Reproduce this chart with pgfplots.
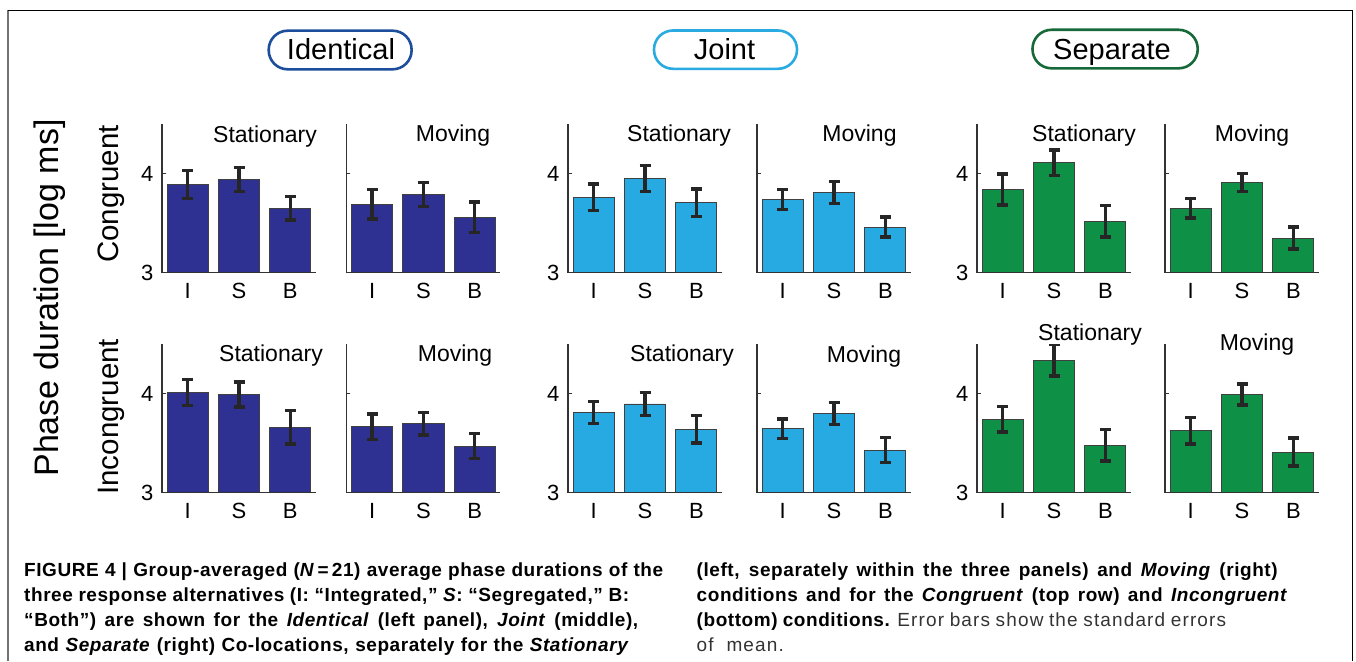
\documentclass[border=0pt]{standalone}
\usepackage{fontspec}
\setmainfont{Liberation Sans}
\newfontfamily\capfont[LetterSpace=3]{Liberation Sans}
\newfontfamily\capreg[LetterSpace=6]{Liberation Sans}
\usepackage{pgfplots}
\pgfplotsset{compat=1.18}

\definecolor{idcol}{HTML}{2E3192}
\definecolor{jocol}{HTML}{27AAE1}
\definecolor{secol}{HTML}{0E9046}
\definecolor{idframe}{HTML}{1C4E9C}
\definecolor{joframe}{HTML}{29ABE2}
\definecolor{seframe}{HTML}{17693A}

\pgfplotsset{
  panel/.style={
    scale only axis, width=154pt, height=148.7pt, anchor=south west,
    xmin=0.5, xmax=3.5, ymin=3, ymax=4.5,
    axis lines*=left, axis on top,
    axis line style={line width=1.1pt, black!80},
    xtick={1,2,3}, xticklabels={I,S,B}, ytick={3,4},
    tick align=inside, major tick length=4pt,
    x tick style={draw=none}, y tick style={line width=1pt, black!80},
    tick label style={font=\fontsize{22}{22}\selectfont},
    /pgf/number format/assume math mode=true,
    xticklabel style={yshift=-7pt}, yticklabel style={xshift=-5pt},
  },
  nolab/.style={yticklabels={}},
  bars/.style={ybar, bar width=0.8, bar shift=0pt, fill=#1, draw=black!75, line width=0.8pt,
    error bars/.cd, y dir=both, y explicit,
    error bar style={line width=3.5pt, black!85},
    error mark=-,
    error mark options={rotate=90, line width=3.5pt, black!85, mark size=5.5pt}},
}

\begin{document}
\begin{tikzpicture}
\path[use as bounding box] (0,0) rectangle (1356pt,-661pt);
\draw[black!55, line width=2pt] (7.5pt,-661pt) -- (7.5pt,-10.5pt);
\draw[black, line width=1.4pt] (7.5pt,-10.5pt) -- (1352.5pt,-10.5pt) -- (1352.5pt,-661pt);

% group headers
\draw[idframe, line width=2.6pt, rounded corners=19pt] (268.7pt,-30.7pt) rectangle (411.6pt,-69.3pt);
\draw[joframe, line width=2.6pt, rounded corners=19pt] (654pt,-30.5pt) rectangle (797pt,-68.8pt);
\draw[seframe, line width=2.6pt, rounded corners=19pt] (1032.5pt,-29.8pt) rectangle (1197.7pt,-68.3pt);
\begin{scope}[every node/.style={anchor=base, font=\fontsize{29}{30}\selectfont}]
\node at (341pt,-59.3pt) {Identical};
\node at (724.5pt,-59.3pt) {Joint};
\node at (1112pt,-59.3pt) {Separate};
\end{scope}

% row labels
\node[rotate=90, font=\fontsize{34}{35}\selectfont] at (50pt,-298pt) {Phase duration [log ms]};
\node[rotate=90, font=\fontsize{29.5}{30}\selectfont] at (111pt,-194pt) {Congruent};
\node[rotate=90, font=\fontsize{29.5}{30}\selectfont] at (111pt,-416.7pt) {Incongruent};

% ---- Congruent row
\begin{axis}[panel, at={(162pt,-272.7pt)}]
\addplot[bars=idcol] coordinates {(1,3.89) +- (0,0.14) (2,3.94) +- (0,0.12) (3,3.65) +- (0,0.12)};
\end{axis}
\begin{axis}[panel, nolab, at={(346.4pt,-272.7pt)}]
\addplot[bars=idcol] coordinates {(1,3.69) +- (0,0.15) (2,3.79) +- (0,0.12) (3,3.56) +- (0,0.155)};
\end{axis}
\begin{axis}[panel, at={(568pt,-272.7pt)}]
\addplot[bars=jocol] coordinates {(1,3.76) +- (0,0.135) (2,3.95) +- (0,0.13) (3,3.705) +- (0,0.14)};
\end{axis}
\begin{axis}[panel, nolab, at={(757pt,-272.7pt)}]
\addplot[bars=jocol] coordinates {(1,3.74) +- (0,0.10) (2,3.81) +- (0,0.11) (3,3.46) +- (0,0.10)};
\end{axis}
\begin{axis}[panel, at={(977pt,-272.7pt)}]
\addplot[bars=secol] coordinates {(1,3.84) +- (0,0.155) (2,4.11) +- (0,0.13) (3,3.52) +- (0,0.16)};
\end{axis}
\begin{axis}[panel, nolab, at={(1165pt,-272.7pt)}]
\addplot[bars=secol] coordinates {(1,3.65) +- (0,0.10) (2,3.91) +- (0,0.09) (3,3.35) +- (0,0.11)};
\end{axis}

% ---- Incongruent row
\begin{axis}[panel, at={(162pt,-492.7pt)}]
\addplot[bars=idcol] coordinates {(1,4.01) +- (0,0.13) (2,3.99) +- (0,0.125) (3,3.66) +- (0,0.17)};
\end{axis}
\begin{axis}[panel, nolab, at={(346.4pt,-492.7pt)}]
\addplot[bars=idcol] coordinates {(1,3.665) +- (0,0.13) (2,3.695) +- (0,0.115) (3,3.47) +- (0,0.125)};
\end{axis}
\begin{axis}[panel, at={(568pt,-492.7pt)}]
\addplot[bars=jocol] coordinates {(1,3.81) +- (0,0.11) (2,3.895) +- (0,0.115) (3,3.64) +- (0,0.14)};
\end{axis}
\begin{axis}[panel, nolab, at={(757pt,-492.7pt)}]
\addplot[bars=jocol] coordinates {(1,3.645) +- (0,0.10) (2,3.80) +- (0,0.11) (3,3.43) +- (0,0.125)};
\end{axis}
\begin{axis}[panel, at={(977pt,-492.7pt)}]
\addplot[bars=secol] coordinates {(1,3.74) +- (0,0.13) (2,4.335) +- (0,0.16) (3,3.48) +- (0,0.16)};
\end{axis}
\begin{axis}[panel, nolab, at={(1165pt,-492.7pt)}]
\addplot[bars=secol] coordinates {(1,3.625) +- (0,0.133) (2,3.99) +- (0,0.106) (3,3.41) +- (0,0.14)};
\end{axis}

% panel titles
\begin{scope}[every node/.style={anchor=base, font=\fontsize{23}{23}\selectfont}]
\node at (265pt,-142.7pt) {Stationary};
\node at (453pt,-141.7pt) {Moving};
\node at (679pt,-141.7pt) {Stationary};
\node at (859.5pt,-141.7pt) {Moving};
\node at (1084pt,-141.7pt) {Stationary};
\node at (1252pt,-141.7pt) {Moving};
\node at (271pt,-361.7pt) {Stationary};
\node at (455pt,-361.7pt) {Moving};
\node at (682pt,-361.7pt) {Stationary};
\node at (864pt,-362.7pt) {Moving};
\node at (1090pt,-340.7pt) {Stationary};
\node at (1257pt,-350.7pt) {Moving};
\end{scope}

% caption
\begin{scope}[every node/.style={anchor=base west, inner sep=0pt, font=\capfont\bfseries\fontsize{19}{20}\selectfont}]
\node at (24pt,-576.7pt) {\makebox[639pt][s]{FIGURE 4 | Group-averaged (\textit{N}\,=\,21) average phase durations of the}};
\node at (24pt,-601.7pt) {\makebox[605pt][s]{three response alternatives (I: “Integrated,” \textit{S}: “Segregated,” B:}};
\node at (24pt,-626.7pt) {\makebox[614pt][s]{“Both”) are shown for the \textit{Identical} (left panel), \textit{Joint} (middle),}};
\node at (24pt,-651.7pt) {\makebox[605pt][s]{and \textit{Separate} (right) Co-locations, separately for the \textit{Stationary}}};
\node at (696.5pt,-576.7pt) {\makebox[581pt][s]{(left, separately within the three panels) and \textit{Moving} (right)}};
\node at (696.5pt,-601.7pt) {\makebox[591pt][s]{conditions and for the \textit{Congruent} (top row) and \textit{Incongruent}}};
\node at (696.5pt,-626.7pt) {\makebox[529.5pt][s]{(bottom) conditions. {\capreg\mdseries\color{black!80} Error bars show the standard errors}}};
\node at (696.5pt,-651.7pt) {{\capreg\mdseries\color{black!80} of\ \ mean.}};
\end{scope}
\end{tikzpicture}
\end{document}
